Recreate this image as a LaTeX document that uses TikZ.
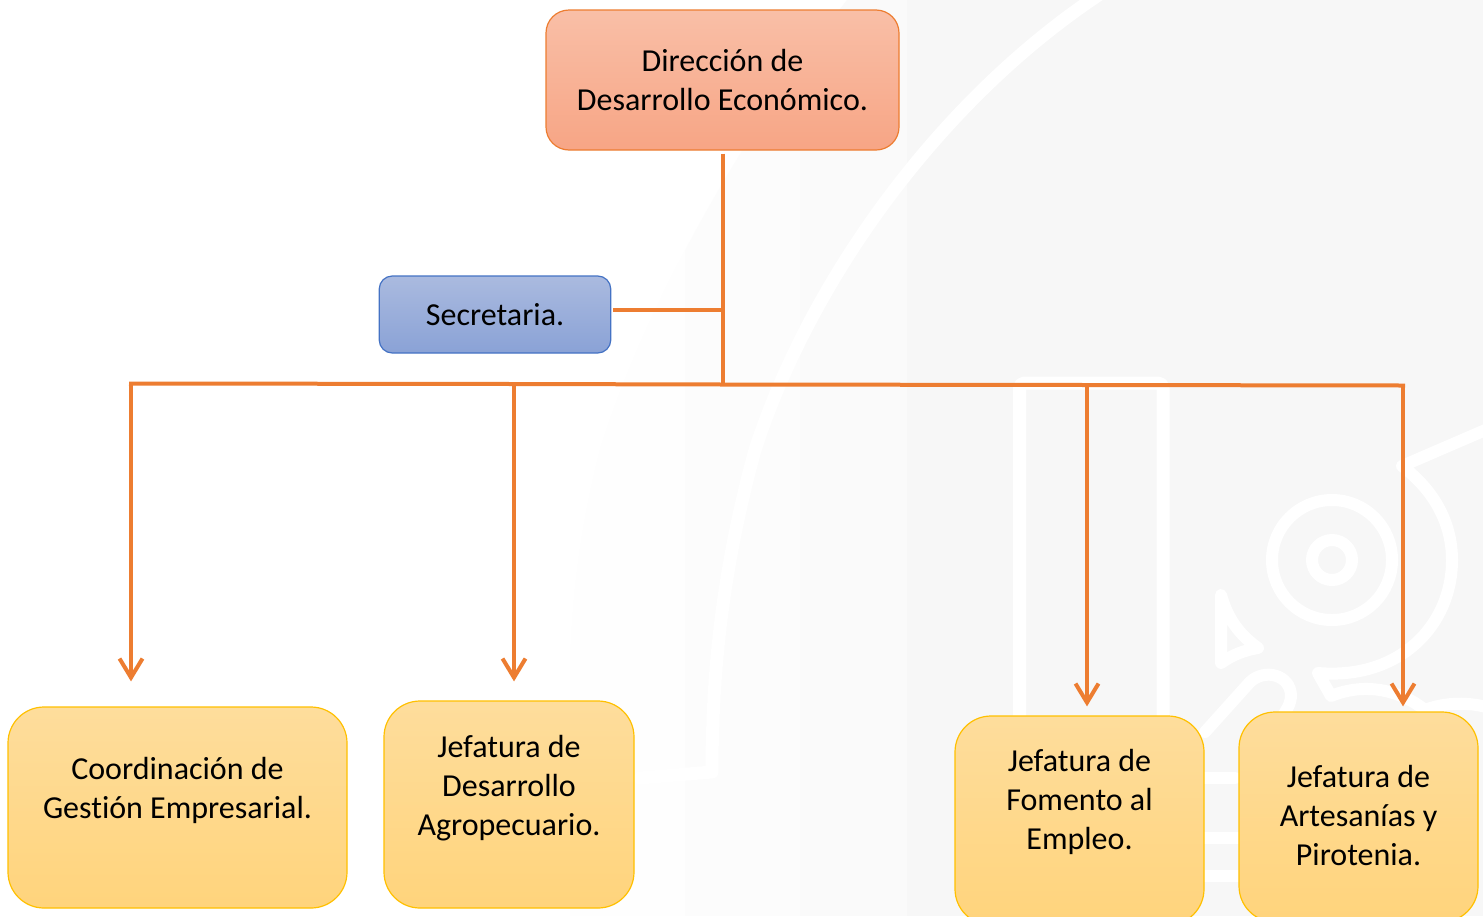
\documentclass[tikz,border=0pt]{standalone}
\usepackage{fontspec}
\setmainfont{Carlito}[Ligatures=NoCommon]
\usetikzlibrary{arrows.meta,calc}
\definecolor{ln}{HTML}{ED7D31}
\definecolor{bggray}{HTML}{F7F7F7}
\definecolor{bgA}{HTML}{FEFEFE}
\definecolor{bgB}{HTML}{FCFCFC}
\definecolor{bgC}{HTML}{FAFAFA}
\newcommand{\lifted}[2]{\raisebox{#1pt}[0pt][0pt]{\begin{tabular}[c]{@{}c@{}}#2\end{tabular}}}
\tikzset{
  box/.style={draw,line width=1.2pt,inner sep=0pt,font=\fontsize{32}{39}\selectfont},
  orangebox/.style={box,draw=ln,top color=F1top,bottom color=F1bot,rounded corners=23pt},
  bluebox/.style={box,draw=blue1,top color=B1top,bottom color=B1bot,rounded corners=13pt},
  yellowbox/.style={box,draw=Y1,top color=Y1top,bottom color=Y1bot,rounded corners=36pt},
  wire/.style={draw=ln,line width=4pt},
  drop/.style={wire,-{Straight Barb[length=19pt,width=23pt,line width=4pt]}},
  wm/.style={draw=white,line width=12pt,line cap=round,line join=round},
}
\definecolor{F1top}{HTML}{F9BFA7}
\definecolor{F1bot}{HTML}{F7A585}
\definecolor{blue1}{HTML}{4472C4}
\definecolor{B1top}{HTML}{AABADF}
\definecolor{B1bot}{HTML}{8AA2D6}
\definecolor{Y1}{HTML}{FFC000}
\definecolor{Y1top}{HTML}{FEDD9C}
\definecolor{Y1bot}{HTML}{FFD47C}
\begin{document}
\begin{tikzpicture}[x=1pt,y=-1pt]
\clip (0,0) rectangle (1483,916);
% watermark background
\fill[white] (0,0) rectangle (1483,916);
\begin{scope}
  \clip (847,0) .. controls (730,150) and (640,320) .. (600,450) .. controls (580,530) and (571,600) .. (570,680) -- (570,916) -- (910,916) -- (910,0) -- cycle;
  \fill[bgA] (560,0) rectangle (685,916);
  \fill[bgB] (685,0) rectangle (800,916);
  \fill[bgC] (800,0) rectangle (910,916);
\end{scope}
\fill[bggray] (907,0) rectangle (1483,916);
\draw[wm,line width=13pt] (1100,-6) .. controls (940,100) and (810,280) .. (755,450) .. controls (725,560) and (712,660) .. (712,772) -- (640,778);
\draw[wm,rounded corners=5pt,line width=13pt] (1019.5,730) -- (1019.5,383) -- (1163,383) -- (1163,730);
\draw[wm] (1332,560) circle[radius=60];
\draw[wm] (1332,560) circle[radius=20];
\draw[wm] (1490,428) -- (1402,466) .. controls (1440,495) and (1452,530) .. (1452,560) .. controls (1452,625) and (1400,680) .. (1318,673) -- (1331,696) .. controls (1365,682) and (1400,690) .. (1425,710) .. controls (1445,702) and (1470,702) .. (1490,708);
\draw[wm] (1221,595) .. controls (1228,620) and (1240,635) .. (1258,648) .. controls (1245,650) and (1232,655) .. (1221,663) -- cycle;
\draw[wm] (1205,732) -- (1250,682) .. controls (1265,668) and (1290,675) .. (1291,695) .. controls (1291,705) and (1285,712) .. (1280,720);
\draw[wm] (1195,778) -- (1235,778);
\draw[wm] (1195,838) -- (1245,838);
\draw[wm] (1195,876) -- (1245,876);

% nodes
\node[orangebox,minimum width=353pt,minimum height=140pt] (dir) at (722.5,80) {\lifted{-9}{Dirección de\\Desarrollo Económico.}};
\node[bluebox,minimum width=231.5pt,minimum height=77pt] (sec) at (495,314.5) {\lifted{-9.5}{Secretaria.}};
\node[yellowbox,minimum width=339pt,minimum height=201pt] (cge) at (177.5,807.5) {\lifted{10}{Coordinación de\\Gestión Empresarial.}};
\node[yellowbox,minimum width=250pt,minimum height=207pt] (agr) at (509,804.5) {\lifted{9.5}{Jefatura de\\Desarrollo\\Agropecuario.}};
\node[yellowbox,minimum width=249pt,minimum height=209pt] (emp) at (1079.5,820.5) {\lifted{11.5}{Jefatura de\\Fomento al\\Empleo.}};
\node[yellowbox,minimum width=239pt,minimum height=210pt] (art) at (1358.5,817) {\lifted{-8}{Jefatura de\\Artesanías y\\Pirotenia.}};

% junctions
\coordinate (busL) at (131,383.5);
\coordinate (busA) at (514,384);
\coordinate (busC) at (723,384.5);
\coordinate (busB) at (1087,385);
\coordinate (busR) at (1403,385.5);
\coordinate (secj) at (723,309.5);

% connectors
\draw[wire,shorten <=3pt] (dir.south -| busC) -- (busC);
\draw[wire,shorten <=2pt] (secj -| sec.east) -- (secj);
\draw[wire,line cap=rect] (busL) -- (busA) -- (busC) -- (busB) -- (busR);
\draw[drop,shorten >=25pt] (busL) -- (busL |- cge.north);
\draw[drop,shorten >=19pt] (busA) -- (busA |- agr.north);
\draw[drop,shorten >=9pt] (busB) -- (busB |- emp.north);
\draw[drop,shorten >=5pt] (busR) -- (busR |- art.north);
\end{tikzpicture}
\end{document}
